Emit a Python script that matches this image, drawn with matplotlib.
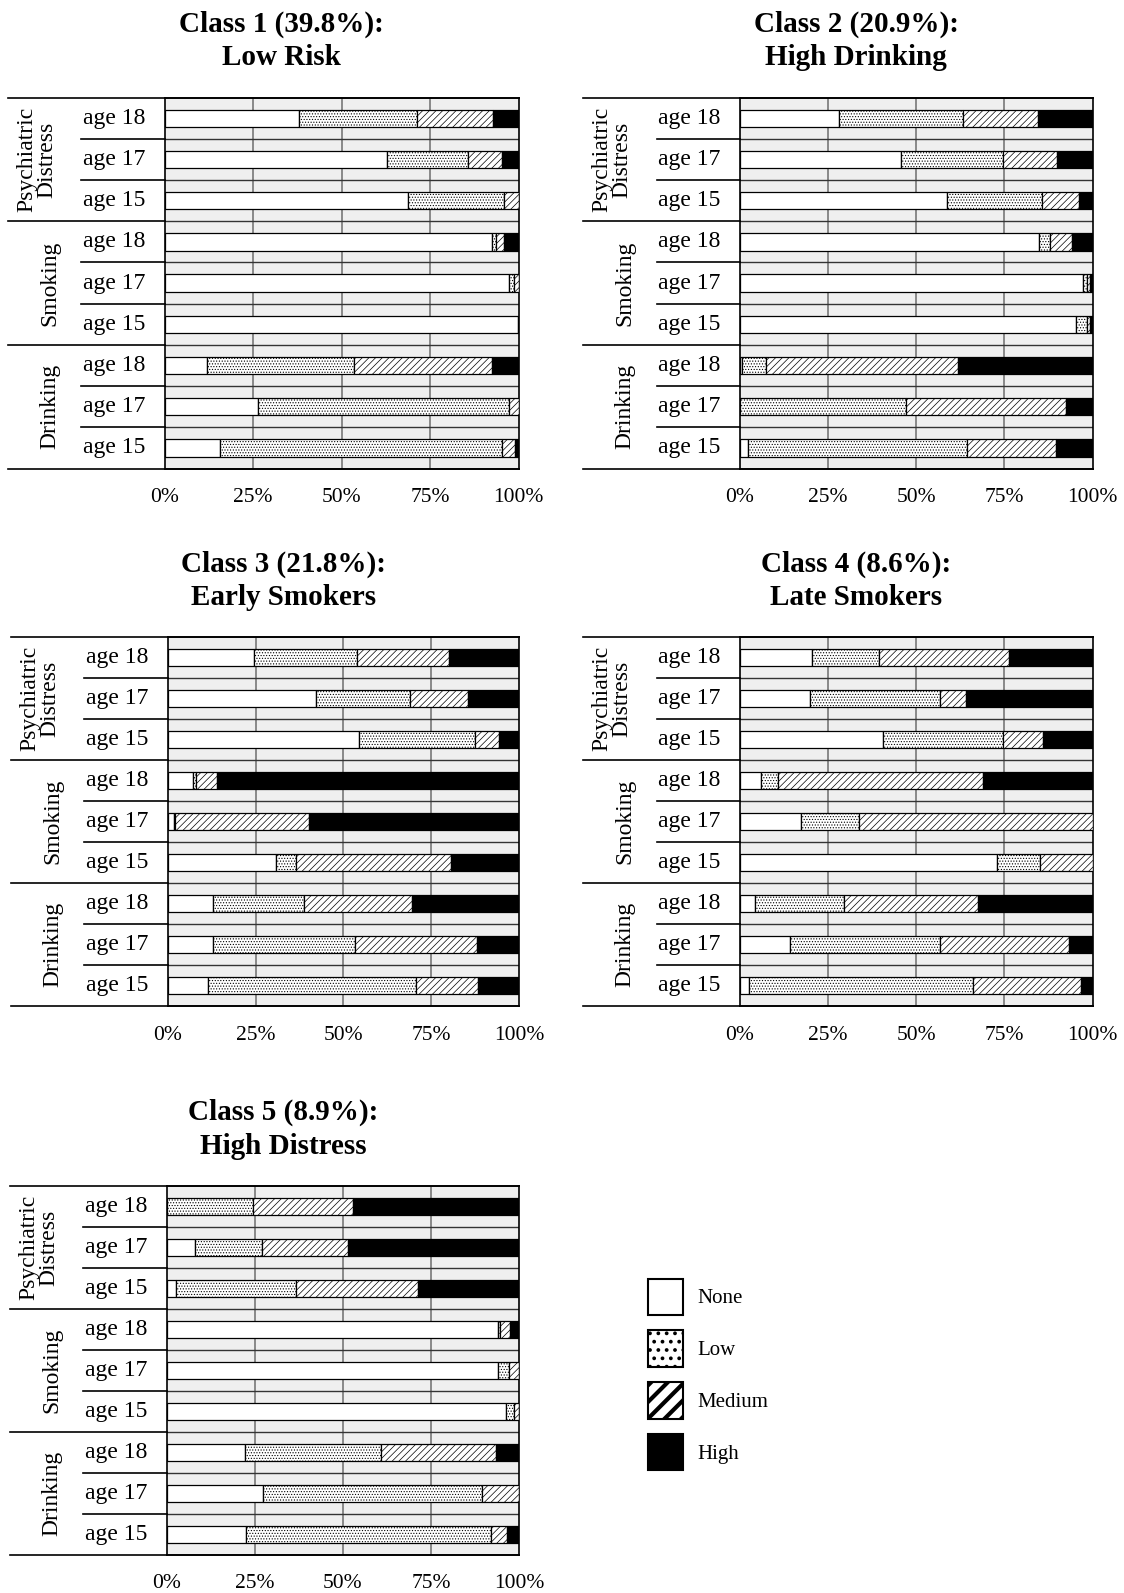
import numpy as np
import matplotlib
matplotlib.use("Agg")
import matplotlib.pyplot as plt
from matplotlib.patches import Patch
from matplotlib.transforms import blended_transform_factory

plt.rcParams['font.family'] = 'Liberation Serif'
plt.rcParams['hatch.linewidth'] = 0.5

FIG_W, FIG_H = 1124, 1593

levels = ["None", "Low", "Medium", "High"]
level_colors = ["white", "white", "white", "black"]
level_hatches = ["", "......", "/////", ""]

groups = ["Psychiatric\nDistress", "Smoking", "Drinking"]
ages = ["age 18", "age 17", "age 15"]
xticks = [0, 25, 50, 75, 100]
xtick_labels = ["0%", "25%", "50%", "75%", "100%"]

class_titles = ["Class 1 (39.8%):\nLow Risk",
                "Class 2 (20.9%):\nHigh Drinking",
                "Class 3 (21.8%):\nEarly Smokers",
                "Class 4 (8.6%):\nLate Smokers",
                "Class 5 (8.9%):\nHigh Distress"]

# shares in % per row, top to bottom: PD 18, 17, 15 / Smk 18, 17, 15 / Drk 18, 17, 15
c1_none = [37.9, 62.7, 68.7, 92.5, 97.3, 99.7, 11.9, 26.3, 15.6]
c1_low  = [33.4, 22.9, 27.3, 1.2, 1.4, 0.3, 41.6, 71.0, 79.6]
c1_med  = [21.4, 9.6, 4.0, 2.3, 1.3, 0.0, 39.0, 2.7, 3.7]
c1_high = [7.3, 4.8, 0.0, 4.0, 0.0, 0.0, 7.5, 0.0, 1.1]

c2_none = [28.2, 45.7, 58.6, 84.7, 97.3, 95.3, 0.6, 0.0, 2.3]
c2_low  = [35.1, 29.0, 27.2, 3.1, 1.2, 3.1, 6.8, 47.0, 62.1]
c2_med  = [21.2, 15.3, 10.3, 6.3, 0.8, 0.9, 54.4, 45.5, 25.3]
c2_high = [15.5, 10.0, 3.9, 5.9, 0.7, 0.7, 38.2, 7.5, 10.3]

c3_none = [24.6, 42.2, 54.4, 7.1, 1.8, 30.8, 12.9, 12.9, 11.4]
c3_low  = [29.1, 26.8, 32.9, 1.0, 0.2, 5.8, 26.0, 40.3, 59.3]
c3_med  = [26.4, 16.5, 6.8, 5.9, 38.2, 44.0, 30.5, 34.8, 17.5]
c3_high = [19.9, 14.5, 5.9, 86.0, 59.8, 19.4, 30.6, 12.0, 11.8]

c4_none = [20.3, 20.0, 40.7, 6.1, 17.4, 73.0, 4.3, 14.1, 2.6]
c4_low  = [19.0, 36.6, 34.0, 4.6, 16.3, 12.2, 25.3, 42.7, 63.5]
c4_med  = [36.9, 7.5, 11.3, 58.2, 66.3, 14.8, 38.0, 36.5, 30.7]
c4_high = [23.8, 35.9, 14.0, 31.1, 0.0, 0.0, 32.4, 6.7, 3.2]

c5_none = [0.0, 8.1, 2.5, 94.0, 93.9, 96.2, 22.2, 27.3, 22.6]
c5_low  = [24.4, 18.8, 34.3, 0.4, 3.3, 2.2, 38.5, 62.0, 69.4]
c5_med  = [28.4, 24.6, 34.5, 3.0, 2.8, 1.6, 32.8, 10.7, 4.5]
c5_high = [47.2, 48.5, 28.7, 2.6, 0.0, 0.0, 6.5, 0.0, 3.5]

class_data = [
    [c1_none, c1_low, c1_med, c1_high],
    [c2_none, c2_low, c2_med, c2_high],
    [c3_none, c3_low, c3_med, c3_high],
    [c4_none, c4_low, c4_med, c4_high],
    [c5_none, c5_low, c5_med, c5_high],
]

# axes boxes [left, bottom, width, height] in figure fractions
positions = [[0.1464, 0.7059, 0.3150, 0.2328],
             [0.6583, 0.7059, 0.3137, 0.2328],
             [0.1492, 0.3684, 0.3128, 0.2316],
             [0.6583, 0.3684, 0.3137, 0.2316],
             [0.1483, 0.0239, 0.3137, 0.2316]]


def draw_panel(ax, title, shares, width_px):
    n_rows = len(shares[0])
    y = np.arange(n_rows)
    ax.set_facecolor("#efefef")

    # grid: vertical percent lines and horizontal row separators
    for xv in [25, 50, 75]:
        ax.axvline(xv, color="#777777", lw=1.2, zorder=1)
    for yv in np.arange(0.5, n_rows - 1, 1.0):
        ax.axhline(yv, color="#333333", lw=1.0, zorder=1)

    left = np.zeros(n_rows)
    for vals, col, hat in zip(shares, level_colors, level_hatches):
        vals = np.array(vals)
        ax.barh(y, vals, left=left, height=0.42, color=col, hatch=hat,
                edgecolor="black", linewidth=0.9, zorder=3)
        left = left + vals

    ax.set_xlim(0, 100)
    ax.set_ylim(n_rows - 0.5, -0.5)
    ax.set_yticks([])
    ax.set_xticks(xticks)
    ax.set_xticklabels(xtick_labels, fontsize=15.5)
    ax.tick_params(axis="x", length=0, pad=14)
    for sp in ax.spines.values():
        sp.set_linewidth(1.2)

    # row label area left of the axes
    tr = blended_transform_factory(ax.transAxes, ax.transData)
    outer = -156.5 / width_px
    inner = -83.3 / width_px
    kw = dict(transform=tr, clip_on=False, color="black", lw=1.2)
    ax.plot([outer, 1], [-0.5, -0.5], **kw)
    ax.plot([outer, 1], [n_rows - 0.5, n_rows - 0.5], **kw)
    for g in range(len(groups)):
        if g > 0:
            ax.plot([outer, 0], [3 * g - 0.5, 3 * g - 0.5], **kw)
        for k in range(1, 3):
            ax.plot([inner, 0], [3 * g + k - 0.5, 3 * g + k - 0.5], **kw)
        gx = -128 / width_px if "\n" in groups[g] else -115 / width_px
        ax.text(gx, 3 * g + 1, groups[g], transform=tr, rotation=90,
                ha="center", va="center", fontsize=17, linespacing=0.95,
                multialignment="center")
        for k in range(3):
            ax.text(-19.6 / width_px, 3 * g + k, ages[k], transform=tr,
                    ha="right", va="center", fontsize=17)

    ax.annotate(title, xy=(0.33, 1.0), xycoords="axes fraction",
                xytext=(0, 19), textcoords="offset points",
                ha="center", va="bottom", fontsize=21, fontweight="bold",
                linespacing=1.3)


fig = plt.figure(figsize=(FIG_W / 100, FIG_H / 100), dpi=100)
for title, shares, pos in zip(class_titles, class_data, positions):
    ax = fig.add_axes(pos)
    draw_panel(ax, title, shares, pos[2] * FIG_W)

# legend
handles = [Patch(facecolor="white", edgecolor="black", lw=1.5),
           Patch(facecolor="white", edgecolor="black", lw=1.5, hatch=".."),
           Patch(facecolor="white", edgecolor="black", lw=1.5, hatch="//"),
           Patch(facecolor="black", edgecolor="black", lw=1.5)]
leg = fig.legend(handles, levels, loc="upper left",
                 bbox_to_anchor=(648.4 / FIG_W, 1 - 1278.5 / FIG_H),
                 frameon=False, fontsize=15, handlelength=1.66, handleheight=2.3,
                 labelspacing=0.75, handletextpad=0.67, borderpad=0, borderaxespad=0)
# bolder hatching in the legend boxes, as in the reference
for h, w in zip(leg.legend_handles, [0.5, 1.5, 3.0, 0.5]):
    if hasattr(h, "set_hatch_linewidth"):
        h.set_hatch_linewidth(w)

fig.savefig("out.png", dpi=100)
